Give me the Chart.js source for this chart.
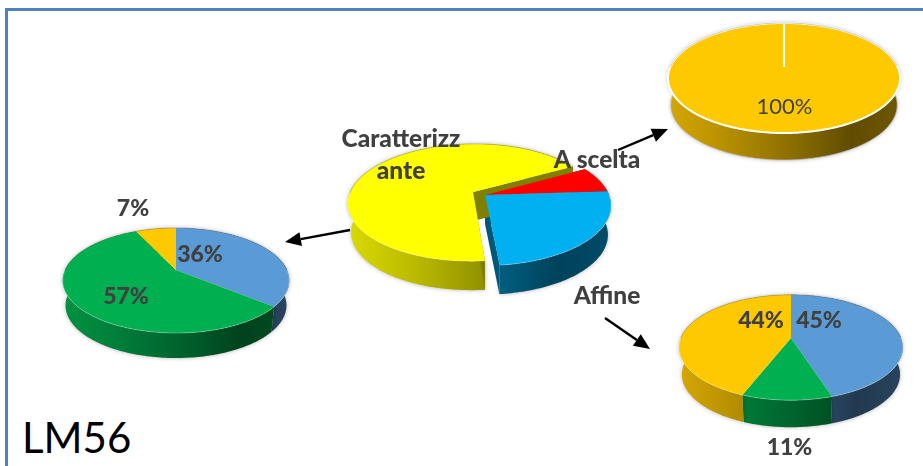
<!DOCTYPE html>
<html lang="it">
<head>
<meta charset="utf-8">
<title>LM56</title>
<script src="https://cdn.jsdelivr.net/npm/chart.js@4/dist/chart.umd.min.js"></script>
<style>
    html, body { margin: 0; padding: 0; background: #fff; overflow: hidden; }
    #page { position: relative; width: 923px; height: 466px; overflow: hidden; }
    #page canvas { position: absolute; left: 0; top: 0; }
    #frame { position: absolute; left: 5px; top: 8px; right: -5px; bottom: -5px; border-top: 3px solid #4f81bd; border-left: 3px solid #4f81bd; }
    #title { position: absolute; left: 22px; top: 411px; font: 400 42px Lato, sans-serif; color: #000; line-height: 52px; }
</style>
</head>
<body>
<div id="page">
    <div id="frame"></div>
    <div id="title">LM56</div>
    <canvas id="pieBase" width="923" height="466"></canvas>
    <canvas id="pieScelta" width="923" height="466"></canvas>
    <canvas id="pieAffine" width="923" height="466"></canvas>
    <canvas id="pieMain" width="923" height="466"></canvas>
</div>
<script>
// ---- dati ----
const mainCategories = ['A scelta', 'Affine', 'Caratterizzante'];
const mainValues     = [7, 24.5, 68.5];

const baseValues   = [36, 57, 7];    // pie a sinistra (Caratterizzante)
const sceltaValues = [100];          // pie in alto (A scelta)
const affineValues = [45, 11, 44];   // pie in basso (Affine)

// ---- colori ----
const BLUE = '#5b9bd5', GREEN = '#00b050', GOLD = '#ffc900';
const mainColors   = ['#ff0000', '#00b0f0', '#ffff00'];
const baseColors   = [BLUE, GREEN, GOLD];
const sceltaColors = [GOLD];
const affineColors = [BLUE, GREEN, GOLD];

// ombreggiatura della parete laterale, da sinistra a destra
const wallShade = [[0, .84], [.25, .72], [.55, .54], [.78, .38], [1, .44]];

const rgb = hex => [1, 3, 5].map(i => parseInt(hex.slice(i, i + 2), 16));

// cx, cy = centro della torta a video; rx, ry = raggi; persp = prospettiva; depth = spessore
const tiltedPie = {
    id: 'tiltedPie',
    beforeDatasetDraw(chart) {
        const { cx, cy, rx, ry, persp, depth } = chart.options.plugins.tiltedPie;
        const ctx = chart.ctx;
        const meta = chart.getDatasetMeta(0);
        const project = (u, v) => {
            const w = 1 - persp * v;
            return [cx + rx * u / w, cy + ry * v / w];
        };
        // il fondo e' piu' lontano, quindi un po' piu' stretto
        const below = p => [cx + (p[0] - cx) * .975, p[1] + depth];
        const left = cx - rx * 1.05, right = cx + rx * 1.05;
        const exploded = meta.data.some(d => d.options.offset > 0);

        const slices = meta.data.map(el => {
            const mid = (el.startAngle + el.endAngle) / 2;
            const ex = el.options.offset / 100;
            const ou = ex * Math.cos(mid), ov = ex * Math.sin(mid);
            const steps = Math.max(2, Math.ceil((el.endAngle - el.startAngle) / 0.02));
            const rim = [];
            for (let s = 0; s <= steps; s++) {
                const a = el.startAngle + (el.endAngle - el.startAngle) * s / steps;
                rim.push({ p: project(Math.cos(a) + ou, Math.sin(a) + ov), back: Math.sin(a) < 0 });
            }
            return { el, rim, apex: project(ou, ov), color: rgb(el.options.backgroundColor) };
        });

        // prima tutte le pareti, cosi' le facce superiori le coprono
        slices.forEach(({ el, rim, color: [r, g, b] }) => {
            const grad = ctx.createLinearGradient(left, 0, right, 0);
            wallShade.forEach(([t, k]) => grad.addColorStop(t, `rgb(${r * k | 0},${g * k | 0},${b * k | 0})`));
            ctx.save();
            ctx.shadowColor = 'rgba(0,0,0,0.3)';
            ctx.shadowBlur = 4;
            ctx.fillStyle = grad;
            ctx.beginPath();
            rim.forEach((pt, n) => n ? ctx.lineTo(pt.p[0], pt.p[1]) : ctx.moveTo(pt.p[0], pt.p[1]));
            for (let n = rim.length - 1; n >= 0; n--) {
                const q = below(rim[n].p);
                ctx.lineTo(q[0], q[1]);
            }
            ctx.closePath();
            ctx.fill();
            if (el.options.borderWidth > 0) {
                ctx.shadowBlur = 0;
                ctx.strokeStyle = 'rgba(190,190,190,0.7)';
                ctx.lineWidth = 1;
                ctx.stroke();
            }
            ctx.restore();
        });

        // facce di taglio della torta esplosa
        if (exploded) {
            slices.forEach(({ rim, apex, color: [r, g, b] }) => {
                ctx.fillStyle = `rgb(${r * .5 | 0},${g * .5 | 0},${b * .5 | 0})`;
                [rim[0].p, rim[rim.length - 1].p].forEach(p => {
                    const q = below(p), qa = below(apex);
                    ctx.beginPath();
                    ctx.moveTo(apex[0], apex[1]);
                    ctx.lineTo(p[0], p[1]);
                    ctx.lineTo(q[0], q[1]);
                    ctx.lineTo(qa[0], qa[1]);
                    ctx.closePath();
                    ctx.fill();
                });
            });
        }

        // facce superiori
        slices.forEach(({ el, rim, apex }) => {
            ctx.fillStyle = el.options.backgroundColor;
            ctx.beginPath();
            ctx.moveTo(apex[0], apex[1]);
            rim.forEach(pt => ctx.lineTo(pt.p[0], pt.p[1]));
            ctx.closePath();
            ctx.fill();
            if (el.options.borderWidth > 0) {
                ctx.strokeStyle = el.options.borderColor;
                ctx.lineWidth = el.options.borderWidth;
                ctx.stroke();
            }
            // filo sul bordo: grigio dietro, chiaro davanti
            ctx.lineWidth = 1;
            for (let n = 1; n < rim.length; n++) {
                ctx.strokeStyle = rim[n].back ? 'rgba(110,110,110,0.35)' : 'rgba(255,255,255,0.3)';
                ctx.beginPath();
                ctx.moveTo(rim[n - 1].p[0], rim[n - 1].p[1]);
                ctx.lineTo(rim[n].p[0], rim[n].p[1]);
                ctx.stroke();
            }
        });
        return false; // la fetta piatta di Chart.js non serve
    },
    afterDraw(chart) {
        const { labels, arrows } = chart.options.plugins.tiltedPie;
        const ctx = chart.ctx;
        (arrows || []).forEach(([x0, y0, x1, y1]) => {
            const a = Math.atan2(y1 - y0, x1 - x0), len = 16, hw = 7;
            const bx = x1 - len * Math.cos(a), by = y1 - len * Math.sin(a);
            ctx.strokeStyle = '#000';
            ctx.fillStyle = '#000';
            ctx.lineWidth = 2.4;
            ctx.beginPath();
            ctx.moveTo(x0, y0);
            ctx.lineTo(bx, by);
            ctx.stroke();
            ctx.beginPath();
            ctx.moveTo(x1, y1);
            ctx.lineTo(bx - hw * Math.sin(a), by + hw * Math.cos(a));
            ctx.lineTo(bx + hw * Math.sin(a), by - hw * Math.cos(a));
            ctx.closePath();
            ctx.fill();
        });
        (labels || []).forEach(l => {
            ctx.font = `${l.weight || 900} ${l.size || 23}px Lato, sans-serif`;
            ctx.fillStyle = '#404040';
            ctx.textAlign = 'center';
            ctx.textBaseline = 'middle';
            ctx.fillText(l.text, l.x, l.y);
        });
    }
};

function makePie(id, values, colors, opts, extra) {
    new Chart(document.getElementById(id), {
        type: 'pie',
        data: {
            labels: extra && extra.categories,
            datasets: [{
                data: values,
                backgroundColor: colors,
                borderWidth: (extra && extra.borderWidth) || 0,
                borderColor: '#fff',
                offset: (extra && extra.offset) || 0
            }]
        },
        options: {
            responsive: false,
            animation: false,
            events: [],
            rotation: (extra && extra.rotation) || 0,
            plugins: {
                legend: { display: false },
                tooltip: { enabled: false },
                tiltedPie: opts
            }
        },
        plugins: [tiltedPie]
    });
}

const pct = v => v + '%';

makePie('pieBase', baseValues, baseColors,
    { cx: 176, cy: 270, rx: 111, ry: 50.4, persp: .2, depth: 25, labels: [
        { text: pct(baseValues[0]), x: 200, y: 255 },
        { text: pct(baseValues[1]), x: 126, y: 297 },
        { text: pct(baseValues[2]), x: 133, y: 209 }
    ] });

makePie('pieScelta', sceltaValues, sceltaColors,
    { cx: 784, cy: 67, rx: 113.7, ry: 52.8, persp: .2, depth: 27, labels: [
        { text: pct(sceltaValues[0]), x: 784.5, y: 107, weight: 400, size: 22 }
    ] },
    { borderWidth: 2 });

makePie('pieAffine', affineValues, affineColors,
    { cx: 791, cy: 338, rx: 110, ry: 51, persp: .18, depth: 27, labels: [
        { text: pct(affineValues[2]), x: 761, y: 321 },
        { text: pct(affineValues[0]), x: 819, y: 321 },
        { text: pct(affineValues[1]), x: 789.5, y: 448 }
    ] });

makePie('pieMain', mainValues, mainColors,
    { cx: 485, cy: 195, rx: 124, ry: 57.8, persp: .18, depth: 29,
      arrows: [[350, 230, 285, 242], [618, 150, 668, 129], [605, 318, 650, 349]],
      labels: [
        { text: 'Caratterizz', x: 401, y: 139, size: 24.5 },
        { text: 'ante', x: 401, y: 171, size: 24.5 },
        { text: mainCategories[0], x: 597, y: 160, size: 24.5 },
        { text: mainCategories[1], x: 607, y: 296, size: 24.5 }
    ] },
    { categories: mainCategories, rotation: 61, offset: [0, 0, 11] });
</script>
</body>
</html>
